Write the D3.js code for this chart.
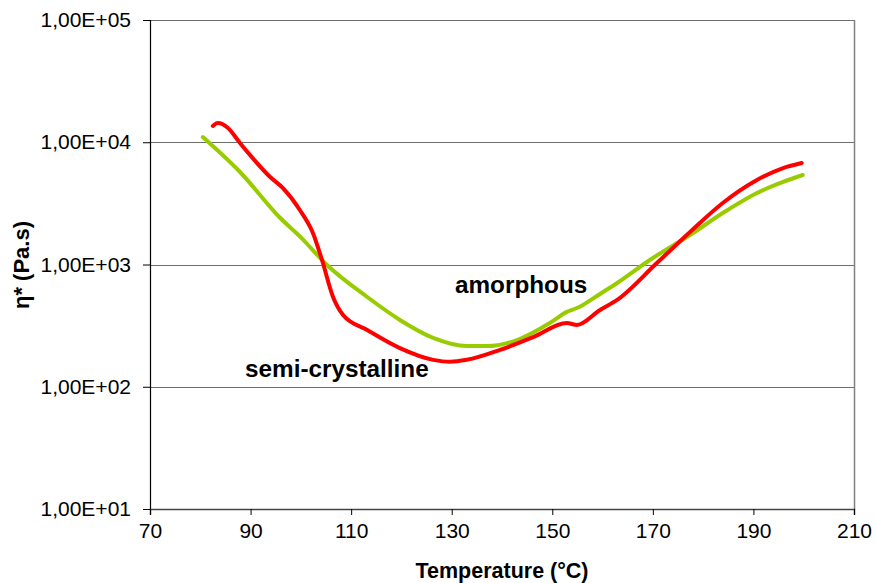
<!DOCTYPE html>
<html>
<head>
<meta charset="utf-8">
<script src="https://cdn.jsdelivr.net/npm/d3@7"></script>
<style>
  body { margin: 0; background: #fff; }
  text { font-family: "Liberation Sans", Arial, sans-serif; }
</style>
</head>
<body>
<div id="chart-area"></div>
<script>
const MARGIN = { LEFT: 150, RIGHT: 22, TOP: 20, BOTTOM: 74 };
const WIDTH = 876 - MARGIN.LEFT - MARGIN.RIGHT;
const HEIGHT = 583 - MARGIN.TOP - MARGIN.BOTTOM;

// amorphous (green)
const amorphousT = [80.5, 87.9, 95.9, 99.8, 105.2, 113.2, 119.7, 126.3, 133.0, 137.0, 143.0, 149.5, 152.9, 154.9, 156.1, 159.5, 162.9, 169.4, 177.4, 183.9, 190.7, 195.9, 199.8];
const amorphousEta = [11040, 5710, 2400, 1700, 991, 542, 352, 251, 215, 215, 241, 332, 410, 441, 467, 574, 706, 1089, 1742, 2636, 3846, 4732, 5395];

// semi-crystalline (red)
const semiT = [82.5, 83.5, 85.5, 87.9, 93.9, 96.4, 99.8, 102.4, 104.2, 106.4, 108.4, 113.2, 119.7, 126.3, 129.7, 133.0, 139.6, 146.2, 152.9, 154.9, 159.5, 162.9, 170.8, 177.4, 183.9, 190.7, 195.9, 199.6];
const semiEta = [13580, 14350, 13090, 9860, 5200, 4230, 2790, 1810, 1089, 542, 386, 291, 207, 166, 160, 166, 200, 255, 332, 320, 425, 513, 1028, 1845, 3184, 4910, 6150, 6760];

const xTicks = [70, 90, 110, 130, 150, 170, 190, 210];
const yTicks = [1e1, 1e2, 1e3, 1e4, 1e5];
const yTickLabels = ["1,00E+01", "1,00E+02", "1,00E+03", "1,00E+04", "1,00E+05"];

const svg = d3.select("#chart-area").append("svg")
	.attr("width", 876)
	.attr("height", 583)

const g = svg.append("g")
	.attr("transform", `translate(${MARGIN.LEFT}, ${MARGIN.TOP})`)

const x = d3.scaleLinear()
	.domain([70, 210])
	.range([0, WIDTH])

const y = d3.scaleLog()
	.domain([10, 100000])
	.range([HEIGHT, 0])

// gridlines
g.selectAll(".grid")
	.data(yTicks)
	.enter().append("line")
	.attr("class", "grid")
	.attr("x1", 0)
	.attr("x2", WIDTH)
	.attr("y1", d => Math.round(y(d)) + 0.5)
	.attr("y2", d => Math.round(y(d)) + 0.5)
	.attr("stroke", "#6e6e6e")
	.attr("stroke-width", 1.2)

// right border
g.append("line")
	.attr("x1", WIDTH + 0.5).attr("x2", WIDTH + 0.5)
	.attr("y1", 0).attr("y2", HEIGHT)
	.attr("stroke", "#808080")
	.attr("stroke-width", 1.5)

const yAxisCall = d3.axisLeft(y)
	.tickValues(yTicks)
	.tickSize(7)
	.tickPadding(12)
	.tickFormat((d, i) => yTickLabels[i])

const yAxis = g.append("g")
	.call(yAxisCall)
yAxis.select(".domain").attr("stroke", "#000").attr("stroke-width", 1.2)
yAxis.selectAll("text").attr("font-size", 21).attr("fill", "#000")

const xAxisCall = d3.axisBottom(x)
	.tickValues(xTicks)
	.tickSize(6)
	.tickPadding(8)

const xAxis = g.append("g")
	.attr("transform", `translate(0, ${HEIGHT})`)
	.call(xAxisCall)
xAxis.select(".domain").attr("stroke", "#444").attr("stroke-width", 1.5)
xAxis.selectAll("text").attr("font-size", 21).attr("fill", "#000")

const line = d3.line()
	.x(d => x(d[0]))
	.y(d => y(d[1]))
	.curve(d3.curveMonotoneX)

g.append("path")
	.datum(amorphousT.map((t, i) => [t, amorphousEta[i]]))
	.attr("fill", "none")
	.attr("stroke", "#99cc00")
	.attr("stroke-width", 4)
	.attr("stroke-linecap", "round")
	.attr("d", line)

g.append("path")
	.datum(semiT.map((t, i) => [t, semiEta[i]]))
	.attr("fill", "none")
	.attr("stroke", "#ff0000")
	.attr("stroke-width", 4)
	.attr("stroke-linecap", "round")
	.attr("d", line)

// series labels
svg.append("text")
	.attr("x", 455)
	.attr("y", 293)
	.attr("font-size", 24.3)
	.attr("font-weight", "bold")
	.text("amorphous")

svg.append("text")
	.attr("x", 245)
	.attr("y", 377)
	.attr("font-size", 24.3)
	.attr("font-weight", "bold")
	.text("semi-crystalline")

// axis titles
svg.append("text")
	.attr("x", MARGIN.LEFT + WIDTH / 2)
	.attr("y", 578)
	.attr("text-anchor", "middle")
	.attr("font-size", 21.5)
	.attr("font-weight", "bold")
	.text("Temperature (°C)")

svg.append("text")
	.attr("transform", "translate(29, 265) rotate(-90)")
	.attr("text-anchor", "middle")
	.attr("font-size", 22)
	.attr("font-weight", "bold")
	.text("η* (Pa.s)")
</script>
</body>
</html>
